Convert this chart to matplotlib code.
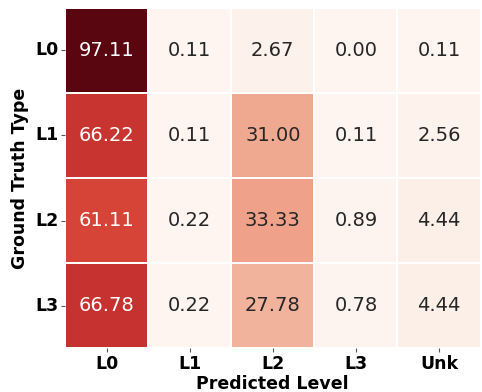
import matplotlib
matplotlib.use("Agg")
import matplotlib.pyplot as plt
from matplotlib.colors import ListedColormap
import numpy as np
import seaborn as sns

rows = ["L0", "L1", "L2", "L3"]
cols = ["L0", "L1", "L2", "L3", "Unk"]
values = np.array([
    [97.11, 0.11, 2.67, 0.00, 0.11],
    [66.22, 0.11, 31.00, 0.11, 2.56],
    [61.11, 0.22, 33.33, 0.89, 4.44],
    [66.78, 0.22, 27.78, 0.78, 4.44],
])

# slightly muted Reds, the reference is a bit less saturated
base = plt.get_cmap("Reds")(np.linspace(0, 1, 256))[:, :3]
lum = (base @ np.array([0.3, 0.59, 0.11]))[:, None]
muted = ListedColormap(0.82 * base + 0.18 * lum)

fig = plt.figure(figsize=(4.82, 3.92), dpi=100)
ax = fig.add_axes([0.135, 0.112, 0.862, 0.868])
sns.heatmap(values, ax=ax, cmap=muted, annot=True, fmt=".2f", cbar=False,
            linewidths=1.2, linecolor="white",
            annot_kws={"fontsize": 14},
            xticklabels=cols, yticklabels=rows)
ax.set_xlabel("Predicted Level", fontsize=12.5, fontweight="bold", labelpad=1.5)
ax.set_ylabel("Ground Truth Type", fontsize=12.5, fontweight="bold", labelpad=4)
ax.set_xticklabels(cols, fontsize=12.5, fontweight="bold")
ax.set_yticklabels(rows, fontsize=12.5, fontweight="bold", rotation=0)
ax.tick_params(length=3, pad=2, color="#555555")
fig.savefig("out.png", dpi=100)
